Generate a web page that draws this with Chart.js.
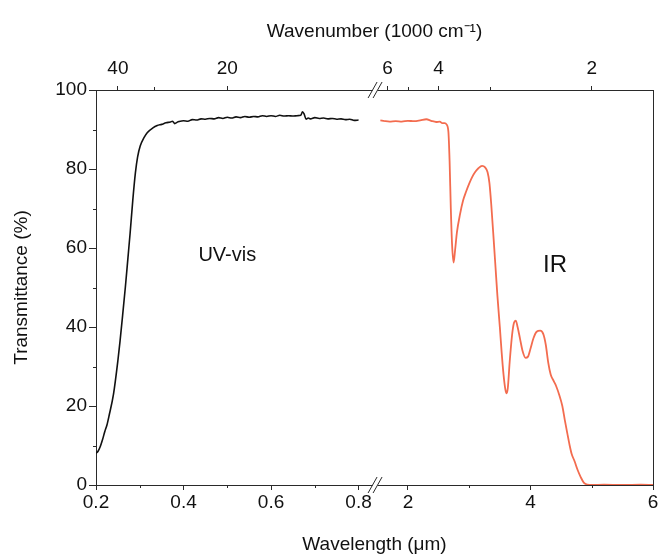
<!DOCTYPE html>
<html>
<head>
<meta charset="utf-8">
<script src="https://cdn.jsdelivr.net/npm/chart.js@4.4.1/dist/chart.umd.min.js"></script>
<style>
html, body { margin: 0; padding: 0; background: #fff; }
#wrap { width: 658px; height: 556px; }
</style>
</head>
<body>
<div id="wrap"><canvas id="chart" width="658" height="556"></canvas></div>
<script>
// UV-vis spectrum (black), wavelength in um, transmittance in %
const uvWavelength = [0.200, 0.205, 0.210, 0.215, 0.220, 0.225, 0.230, 0.240, 0.250, 0.255, 0.260, 0.267, 0.273, 0.278, 0.284, 0.290, 0.295, 0.301, 0.310, 0.317, 0.330, 0.340,
  0.350, 0.360, 0.370, 0.375, 0.380, 0.385, 0.390, 0.400, 0.410, 0.420, 0.430, 0.440, 0.450, 0.460, 0.470, 0.480, 0.490, 0.500, 0.510, 0.520, 0.530, 0.540, 0.550,
  0.560, 0.570, 0.580, 0.590, 0.600, 0.610, 0.620, 0.630, 0.640, 0.650, 0.660, 0.668, 0.672, 0.676, 0.680, 0.685, 0.690, 0.700, 0.710, 0.720, 0.730, 0.740,
  0.750, 0.760, 0.770, 0.780, 0.790, 0.800];
const uvTransmittance = [8.0, 8.6, 9.8, 11.5, 13.5, 15.2, 17.6, 23.0, 31.5, 36.5, 42.0, 50.0, 57.5, 63.8, 72.0, 79.0, 83.0, 85.8, 88.0, 89.2, 90.4, 91.0,
  91.3, 91.7, 91.9, 92.1, 91.5, 91.8, 92.0, 92.2, 92.1, 92.5, 92.4, 92.7, 92.6, 92.8, 92.7, 93.0, 92.8, 93.1, 92.9, 93.2, 93.0, 93.3, 93.1,
  93.3, 93.2, 93.5, 93.3, 93.5, 93.3, 93.6, 93.4, 93.5, 93.4, 93.5, 93.6, 94.5, 93.8, 92.6, 92.9, 92.7, 93.0, 92.8, 92.9, 92.7, 92.8,
  92.6, 92.7, 92.5, 92.6, 92.3, 92.4];

// IR spectrum (orange)
const irWavelength = [1.55, 1.60, 1.70, 1.80, 1.90, 2.00, 2.10, 2.20, 2.30, 2.38, 2.46, 2.52, 2.56, 2.60, 2.63, 2.66, 2.68, 2.70, 2.72, 2.745, 2.77, 2.80,
  2.85, 2.90, 2.95, 3.00, 3.05, 3.10, 3.15, 3.21, 3.26, 3.30, 3.33, 3.36, 3.40, 3.43, 3.46, 3.50, 3.53, 3.56, 3.59, 3.61, 3.63, 3.66, 3.70, 3.73, 3.76,
  3.79, 3.83, 3.87, 3.92, 3.96, 4.00, 4.05, 4.10, 4.16, 4.21, 4.25, 4.29, 4.33, 4.38, 4.42, 4.47, 4.52, 4.56, 4.60, 4.64, 4.67, 4.72, 4.77, 4.82,
  4.87, 4.93, 5.00, 5.20, 5.50, 5.80, 6.00];
const irTransmittance = [92.3, 92.2, 92.0, 92.1, 92.0, 92.2, 92.1, 92.3, 92.6, 92.2, 91.9, 92.0, 91.6, 91.6, 91.3, 89.5, 82.0, 70.0, 61.0, 56.3, 59.5, 64.0,
  68.5, 72.0, 74.3, 76.3, 78.0, 79.3, 80.2, 80.8, 80.4, 79.2, 76.5, 71.0, 62.0, 55.0, 48.0, 40.0, 33.5, 28.0, 24.2, 23.2, 24.5, 31.0, 38.0, 41.0, 41.6,
  40.0, 37.0, 34.0, 32.2, 32.5, 34.5, 37.2, 38.8, 39.1, 38.2, 35.5, 31.0, 28.0, 26.3, 25.0, 22.8, 20.0, 16.5, 13.2, 10.0, 8.0, 6.0, 3.8, 2.0,
  0.6, 0.1, 0.0, 0.1, 0.0, 0.1, 0.0];

// tick labels
const bottomTicks = [0.2, 0.4, 0.6, 0.8, 2, 4, 6];
const bottomMinor = [0.3, 0.5, 0.7, 3, 5];
const topTicks = [40, 20, 6, 4, 2];   // wavenumber, 1000 cm-1
const topMinor = [30, 5, 3];
const yMinor = [10, 30, 50, 70, 90];

// broken x axis: 0.2-0.84 um on the left, 1.48-6 um squeezed on the right
const BREAK_LO = 0.84, BREAK_HI = 1.48, RIGHT_SCALE = 0.14;
function axisPos(um) {
  return um <= BREAK_LO ? um : BREAK_LO + (um - BREAK_HI) * RIGHT_SCALE;
}

const FONT = "'Liberation Sans', Arial, sans-serif";
const AXIS = '#2a2a2a';
const TEXT = '#111';

function line(ctx, x1, y1, x2, y2) {
  ctx.beginPath();
  ctx.moveTo(x1, y1);
  ctx.lineTo(x2, y2);
  ctx.stroke();
}

const decorations = {
  id: 'decorations',
  beforeDraw(chart) {
    const ctx = chart.ctx;
    ctx.save();
    ctx.fillStyle = '#fff';
    ctx.fillRect(0, 0, chart.width, chart.height);
    ctx.restore();
  },
  afterDraw(chart) {
    const { ctx, chartArea: a, scales: { x, xTop, y } } = chart;
    ctx.save();
    ctx.strokeStyle = AXIS;
    ctx.lineWidth = 1;

    // right frame
    line(ctx, Math.round(a.right) + 0.5, a.top, Math.round(a.right) + 0.5, a.bottom + 0.5);

    // minor ticks
    bottomMinor.forEach(v => {
      const px = Math.round(x.getPixelForValue(axisPos(v))) + 0.5;
      line(ctx, px, a.bottom, px, a.bottom + 3);
    });
    topMinor.forEach(k => {
      const px = Math.round(xTop.getPixelForValue(axisPos(10 / k))) + 0.5;
      line(ctx, px, a.top, px, a.top - 3);
    });
    yMinor.forEach(v => {
      const py = Math.round(y.getPixelForValue(v)) + 0.5;
      line(ctx, a.left - 3, py, a.left, py);
    });

    // axis break marks
    const bx = x.getPixelForValue(BREAK_LO) - 1;
    [a.top, a.bottom].forEach(yy => {
      ctx.fillStyle = '#fff';
      ctx.fillRect(bx - 2.5, yy - 2, 5, 4);
      line(ctx, bx - 7, yy + 8, bx + 2, yy - 8);
      line(ctx, bx - 2, yy + 8, bx + 7, yy - 8);
    });

    // region labels
    ctx.fillStyle = TEXT;
    ctx.textAlign = 'center';
    ctx.textBaseline = 'middle';
    ctx.font = `20px ${FONT}`;
    ctx.fillText('UV-vis', x.getPixelForValue(axisPos(0.5)), y.getPixelForValue(58));
    ctx.font = `24px ${FONT}`;
    ctx.fillText('IR', x.getPixelForValue(axisPos(4.4)), y.getPixelForValue(55.7));
    ctx.restore();
  }
};

const tickFont = { family: FONT, size: 19 };
const titleFont = { family: FONT, size: 19 };

const ctx = document.getElementById('chart').getContext('2d');
new Chart(ctx, {
  type: 'line',
  data: {
    datasets: [
      {
        label: 'UV-vis',
        data: uvWavelength.map((w, i) => ({ x: axisPos(w), y: uvTransmittance[i] })),
        borderColor: '#111',
        borderWidth: 1.6,
        pointRadius: 0,
        cubicInterpolationMode: 'monotone'
      },
      {
        label: 'IR',
        data: irWavelength.map((w, i) => ({ x: axisPos(w), y: irTransmittance[i] })),
        borderColor: '#f36c4f',
        borderWidth: 1.8,
        pointRadius: 0,
        cubicInterpolationMode: 'monotone'
      }
    ]
  },
  options: {
    responsive: false,
    animation: false,
    layout: { padding: { left: 0, right: 5, top: 0, bottom: 0 } },
    plugins: { legend: { display: false }, tooltip: { enabled: false } },
    scales: {
      x: {
        type: 'linear',
        position: 'bottom',
        min: 0.2,
        max: axisPos(6),
        afterBuildTicks: s => { s.ticks = bottomTicks.map(v => ({ value: axisPos(v) })); },
        afterFit: s => { s.height = 71; s.paddingLeft = 0; s.paddingRight = 0; },
        ticks: {
          autoSkip: false, maxRotation: 0, padding: 1, color: TEXT, font: tickFont,
          callback: (v, i) => String(bottomTicks[i])
        },
        grid: { drawOnChartArea: false, tickLength: 5, tickColor: AXIS },
        border: { color: AXIS, width: 1 },
        title: { display: true, text: 'Wavelength (μm)', color: TEXT, font: titleFont, padding: { top: 0, bottom: 0 } }
      },
      xTop: {
        type: 'linear',
        position: 'top',
        min: 0.2,
        max: axisPos(6),
        afterBuildTicks: s => { s.ticks = topTicks.map(k => ({ value: axisPos(10 / k) })); },
        afterFit: s => { s.height = 90; s.paddingLeft = 0; s.paddingRight = 0; },
        ticks: {
          autoSkip: false, maxRotation: 0, padding: 6, color: TEXT, font: tickFont,
          callback: (v, i) => String(topTicks[i])
        },
        grid: { drawOnChartArea: false, tickLength: 4, tickColor: AXIS },
        border: { color: AXIS, width: 1 },
        title: { display: true, text: 'Wavenumber (1000 cm⁻¹)', color: TEXT, font: titleFont, padding: { top: 20, bottom: 0 } }
      },
      y: {
        min: 0,
        max: 100,
        afterFit: s => { s.width = 96; s.paddingTop = 0; s.paddingBottom = 0; },
        ticks: { stepSize: 20, padding: 2, color: TEXT, font: tickFont },
        grid: { drawOnChartArea: false, tickLength: 7, tickColor: AXIS },
        border: { color: AXIS, width: 1 },
        title: { display: true, text: 'Transmittance (%)', color: TEXT, font: titleFont, padding: { top: 10, bottom: 0 } }
      }
    }
  },
  plugins: [decorations]
});
</script>
</body>
</html>
